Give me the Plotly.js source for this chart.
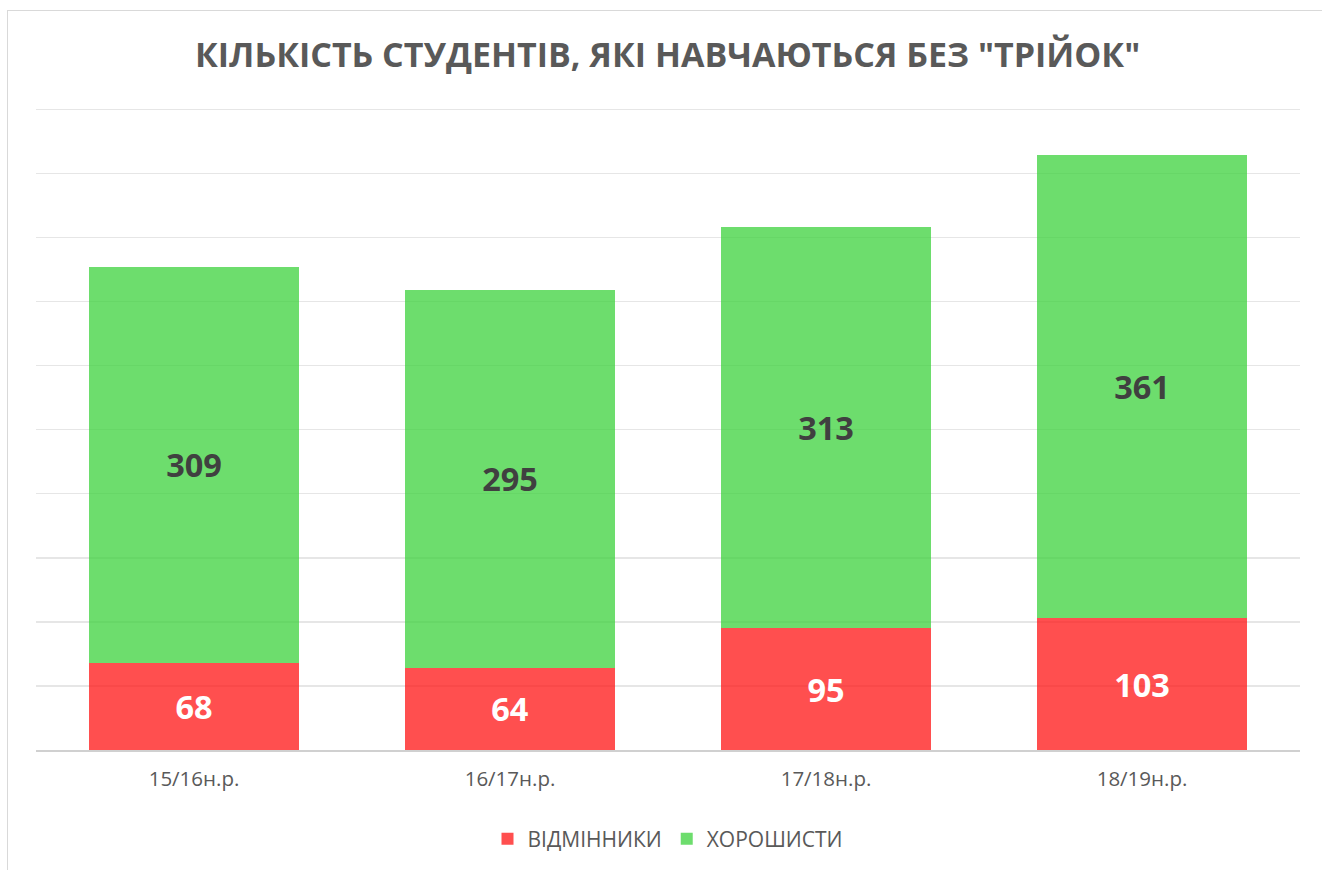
<!DOCTYPE html>
<html>
<head>
<meta charset="utf-8">
<script src="https://cdn.plot.ly/plotly-3.0.1.min.js"></script>
<style>
html,body{margin:0;padding:0;background:#fff;overflow:hidden;}
#frame{position:absolute;left:7px;top:10px;width:1330px;height:880px;border:1.5px solid #d9d9d9;box-sizing:border-box;}
#chart{position:absolute;left:0;top:0;width:1322px;height:870px;}
</style>
</head>
<body>
<div id="frame"></div>
<div id="chart"></div>
<script>
const categories = ["15/16н.р.", "16/17н.р.", "17/18н.р.", "18/19н.р."];
const excellent = [68, 64, 95, 103];
const good = [309, 295, 313, 361];
const seriesNames = ["ВІДМІННИКИ", "ХОРОШИСТИ"];
const titleText = 'КІЛЬКІСТЬ СТУДЕНТІВ, ЯКІ НАВЧАЮТЬСЯ БЕЗ "ТРІЙОК"';

const font = '"Open Sans", "Noto Sans", sans-serif';

const traces = [
  {
    type: 'bar', name: seriesNames[0], x: categories, y: excellent,
    marker: {color: 'rgba(255,20,20,0.75)'},
    text: excellent.map(String), textposition: 'inside', insidetextanchor: 'middle',
    textfont: {family: font, size: 32.5, color: '#ffffff', weight: 'bold'},
    hoverinfo: 'none'
  },
  {
    type: 'bar', name: seriesNames[1], x: categories, y: good,
    marker: {color: 'rgba(60,210,60,0.75)'},
    text: good.map(String), textposition: 'inside', insidetextanchor: 'middle',
    textfont: {family: font, size: 32.5, color: '#404040', weight: 'bold'},
    hoverinfo: 'none'
  }
];

const layout = {
  width: 1322, height: 870,
  paper_bgcolor: 'rgba(0,0,0,0)', plot_bgcolor: 'rgba(0,0,0,0)',
  barmode: 'stack', bargap: 0.333,
  margin: {l: 36, r: 22, t: 108, b: 119},
  title: {text: titleText, x: 0.505, xanchor: 'center', y: 0.937, yanchor: 'middle',
    font: {family: font, size: 34, color: '#595959', weight: 'bold'}},
  xaxis: {type: 'category', showgrid: false, showline: true, linecolor: '#d0d0d0', linewidth: 1.5,
    ticks: '', ticklabelstandoff: 10, tickfont: {family: font, size: 20.5, color: '#595959'}, fixedrange: true},
  yaxis: {range: [0, 501], dtick: 50, showticklabels: false, showgrid: true, gridcolor: '#e6e6e6',
    gridwidth: 1.5, zeroline: false, fixedrange: true},
  showlegend: true,
  legend: {orientation: 'h', x: 0.5, xanchor: 'center', y: -0.105, yanchor: 'top',
    font: {family: font, size: 21, color: '#595959'}, traceorder: 'normal', itemwidth: 30},
  uniformtext: {mode: false}
};

Plotly.newPlot('chart', traces, layout, {displayModeBar: false, staticPlot: true});
</script>
</body>
</html>
